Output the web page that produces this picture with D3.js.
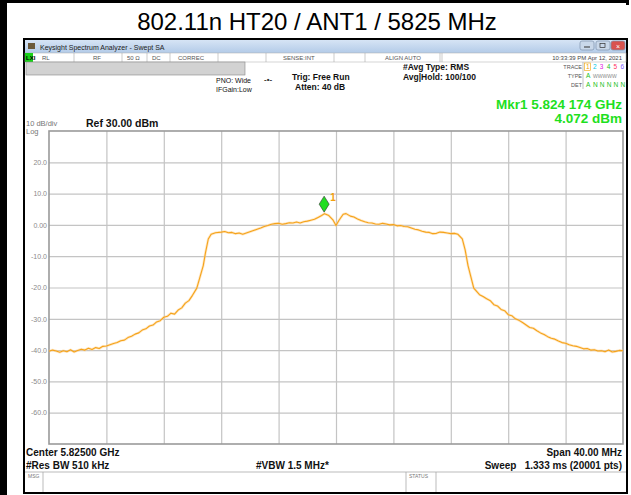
<!DOCTYPE html>
<html>
<head>
<meta charset="utf-8">
<script src="https://cdn.jsdelivr.net/npm/d3@7"></script>
<style>
  html, body { margin: 0; padding: 0; background: #fff; }
  svg { display: block; font-family: "Liberation Sans", Arial, sans-serif; }
</style>
</head>
<body>
<svg id="svg" width="631" height="495"></svg>
<script>
// spectrum trace (MHz, dBm)
const freqs = [
  5805.00, 5805.25, 5805.50, 5805.75, 5806.00, 5806.25, 5806.50, 5806.75, 5807.00, 5807.25,
  5807.50, 5807.75, 5808.00, 5808.25, 5808.50, 5808.75, 5809.00, 5809.25, 5809.50, 5809.75,
  5810.00, 5810.25, 5810.50, 5810.75, 5811.00, 5811.25, 5811.50, 5811.75, 5812.00, 5812.25,
  5812.50, 5812.75, 5813.00, 5813.25, 5813.50, 5813.75, 5814.00, 5814.25, 5814.50, 5814.75,
  5815.00, 5815.30, 5815.50, 5815.75, 5815.90, 5816.10, 5816.30, 5816.60,
  5817.00, 5817.25, 5817.50, 5817.75, 5818.00, 5818.25, 5818.50, 5818.75, 5819.00, 5819.25,
  5819.50, 5819.75, 5820.00, 5820.25, 5820.50, 5820.75, 5821.00, 5821.25, 5821.50, 5821.75,
  5822.00, 5822.25, 5822.50, 5822.75, 5823.00, 5823.25, 5823.50, 5823.75,
  5824.00, 5824.20, 5824.50, 5824.80, 5825.00, 5825.20, 5825.50, 5825.70,
  5826.00, 5826.25, 5826.50, 5826.75, 5827.00, 5827.25, 5827.50, 5827.75, 5828.00, 5828.25,
  5828.50, 5828.75, 5829.00, 5829.25, 5829.50, 5829.75, 5830.00, 5830.25, 5830.50, 5830.75,
  5831.00, 5831.25, 5831.50, 5831.75, 5832.00, 5832.25, 5832.50, 5832.75, 5833.00, 5833.25,
  5833.50, 5833.80, 5834.00, 5834.20, 5834.40, 5834.60, 5835.00,
  5835.25, 5835.50, 5835.75, 5836.00, 5836.25, 5836.50, 5836.75, 5837.00, 5837.25, 5837.50,
  5837.75, 5838.00, 5838.25, 5838.50, 5838.75, 5839.00, 5839.25, 5839.50, 5839.75, 5840.00,
  5840.25, 5840.50, 5840.75, 5841.00, 5841.25, 5841.50, 5841.75, 5842.00, 5842.25, 5842.50,
  5842.75, 5843.00, 5843.25, 5843.50, 5843.75, 5844.00, 5844.25, 5844.50, 5844.75, 5845.00
];
const levels = [
  -40.4, -40.0, -40.3, -40.7, -40.2, -40.5, -39.9, -40.6, -40.1, -39.7,
  -40.0, -39.4, -39.8, -39.2, -39.5, -38.8, -38.7, -38.3, -37.9, -37.6,
  -37.0, -36.8, -36.0, -35.6, -34.9, -34.5, -33.6, -33.2, -32.3, -32.0,
  -31.0, -30.6, -29.5, -29.2, -28.2, -28.5, -27.2, -26.5, -25.0, -24.2,
  -22.5, -20.2, -17.0, -13.0, -9.0, -4.5, -3.0, -2.5,
  -2.3, -2.1, -2.5, -2.4, -2.8, -2.6, -3.0, -2.6, -2.2, -1.8,
  -1.4, -1.0, -0.5, -0.2, 0.2, 0.4, 0.5, 0.2, 0.4, 0.7,
  0.6, 0.9, 0.6, 1.0, 1.2, 1.5, 1.8, 2.4,
  3.0, 3.6, 3.0, 1.5, -0.2, 1.4, 3.4, 3.6,
  2.8, 2.5, 1.9, 1.4, 1.0, 0.7, 0.6, 0.3, 0.2, 0.5,
  0.3, 0.0, 0.1, -0.3, -0.2, -0.5, -0.6, -1.0, -1.4, -1.6,
  -2.0, -2.3, -2.4, -2.8, -2.7, -2.3, -2.4, -2.6, -2.8, -2.7,
  -3.0, -4.5, -8.0, -13.0, -16.6, -20.2, -22.3,
  -22.9, -23.6, -24.2, -25.5, -25.9, -27.0, -27.4, -28.7, -29.0, -30.0,
  -30.5, -31.2, -32.0, -32.8, -33.0, -33.8, -34.5, -35.0, -35.7, -36.2,
  -36.5, -37.1, -37.6, -37.8, -38.3, -38.6, -38.8, -39.2, -39.6, -39.5,
  -40.0, -39.9, -40.3, -40.2, -40.5, -40.0, -40.6, -40.4, -40.1, -40.2
];

const yTicks = [20, 10, 0, -10, -20, -30, -40, -50, -60];
const yTickLabels = ["20.0", "10.0", "0.00", "-10.0", "-20.0", "-30.0", "-40.0", "-50.0", "-60.0"];
const xTicks = [5809, 5813, 5817, 5821, 5825, 5829, 5833, 5837, 5841];

const marker = { freq: 5824.174, level: 4.072, label: "1" };

const svg = d3.select("#svg");
const W = 631, H = 495;

const x = d3.scaleLinear().domain([5805, 5845]).range([49, 623]);
const y = d3.scaleLinear().domain([-70, 30]).range([444, 131]);

// page frame
svg.append("rect").attr("x", 0).attr("y", 0).attr("width", W).attr("height", H).attr("fill", "#fff");
svg.append("rect").attr("x", 0).attr("y", 0).attr("width", 7).attr("height", H).attr("fill", "#000");
svg.append("rect").attr("x", 0).attr("y", 0).attr("width", 629).attr("height", 3).attr("fill", "#000");
svg.append("rect").attr("x", 626).attr("y", 0).attr("width", 3).attr("height", 5).attr("fill", "#000");

svg.append("text")
  .attr("x", 317).attr("y", 30)
  .attr("text-anchor", "middle")
  .style("font-size", "24px")
  .attr("fill", "#000")
  .text("802.11n HT20 / ANT1 / 5825 MHz");

// instrument window
const win = svg.append("g");
win.append("rect").attr("x", 24).attr("y", 39).attr("width", 603).attr("height", 454)
  .attr("fill", "#fff").attr("stroke", "#000").attr("stroke-width", 2);

const defs = svg.append("defs");
const grad = defs.append("linearGradient").attr("id", "tb").attr("x1", 0).attr("y1", 0).attr("x2", 0).attr("y2", 1);
grad.append("stop").attr("offset", "0%").attr("stop-color", "#d6e4f5");
grad.append("stop").attr("offset", "100%").attr("stop-color", "#b3cbe8");
win.append("rect").attr("x", 25).attr("y", 40).attr("width", 601).attr("height", 13).attr("fill", "url(#tb)");
win.append("rect").attr("x", 28).attr("y", 43).attr("width", 7).attr("height", 6).attr("fill", "#6b5a3a");
win.append("text").attr("x", 40).attr("y", 50).style("font-size", "7px").attr("fill", "#222")
  .text("Keysight Spectrum Analyzer - Swept SA");

// window buttons
[[580, "#c9d8ea"], [596, "#c9d8ea"], [611, "#d9534f"]].forEach(([bx, c]) => {
  win.append("rect").attr("x", bx).attr("y", 41).attr("width", 14).attr("height", 9)
    .attr("rx", 2).attr("fill", c).attr("stroke", "#7f93ad").attr("stroke-width", 0.7);
});
win.append("line").attr("x1", 584).attr("x2", 590).attr("y1", 47).attr("y2", 47).attr("stroke", "#333");
win.append("rect").attr("x", 600).attr("y", 43.5).attr("width", 5).attr("height", 4).attr("fill", "none").attr("stroke", "#333").attr("stroke-width", 0.7);
win.append("text").attr("x", 618).attr("y", 48.5).attr("text-anchor", "middle").style("font-size", "7px").attr("fill", "#fff").text("×");

// status row
win.append("rect").attr("x", 25).attr("y", 53).attr("width", 601).attr("height", 9).attr("fill", "#fff")
  .attr("stroke", "#aaa").attr("stroke-width", 0.5);
win.append("rect").attr("x", 25).attr("y", 53).attr("width", 8).attr("height", 9).attr("fill", "#19d119");
win.append("text").attr("x", 26).attr("y", 60).style("font-size", "6px").attr("font-weight", "bold").text("LXI");
const statusCells = [
  { x: 42, t: "RL" }, { x: 93, t: "RF" }, { x: 127, t: "50 Ω" }, { x: 152, t: "DC" }, { x: 178, t: "CORREC" },
  { x: 283, t: "SENSE:INT" }, { x: 385, t: "ALIGN AUTO" }
];
statusCells.forEach((d) => {
  win.append("text").attr("x", d.x).attr("y", 60).style("font-size", "6px").attr("fill", "#555").text(d.t);
});
[74, 122, 147, 170, 218, 266, 334, 365, 440, 442].forEach((lx) => {
  win.append("line").attr("x1", lx).attr("x2", lx).attr("y1", 53).attr("y2", 62).attr("stroke", "#aaa").attr("stroke-width", 0.6);
});
win.append("text").attr("x", 622).attr("y", 60).attr("text-anchor", "end").style("font-size", "6px").attr("fill", "#444")
  .text("10:33:39 PM Apr 12, 2021");

// grey message band
win.append("rect").attr("x", 26).attr("y", 62).attr("width", 219).attr("height", 13).attr("fill", "#d2d2d2")
  .attr("stroke", "#888").attr("stroke-width", 0.6);

// settings text
const small = (t, tx, ty, opts = {}) => win.append("text").attr("x", tx).attr("y", ty)
  .style("font-size", (opts.size || 7) + "px").attr("font-weight", opts.bold ? "bold" : "normal")
  .attr("fill", opts.fill || "#111").attr("text-anchor", opts.anchor || "start").text(t);

small("PNO: Wide", 216, 83);
small("IFGain:Low", 216, 92);
small("-•-", 264, 82, { size: 8, bold: true, fill: "#333" });
small("Trig: Free Run", 292, 80, { size: 8.5, bold: true });
small("Atten: 40 dB", 295, 90, { size: 8.5, bold: true });
small("#Avg Type: RMS", 403, 70, { size: 8.5, bold: true });
small("Avg|Hold: 100/100", 403, 80, { size: 8.5, bold: true });

// trace table
small("TRACE", 582, 69, { size: 5.5, anchor: "end", fill: "#555" });
small("TYPE", 582, 78, { size: 5.5, anchor: "end", fill: "#555" });
small("DET", 582, 87, { size: 5.5, anchor: "end", fill: "#555" });
const traceColors = ["#f0a000", "#00c8e6", "#e020e0", "#20c020", "#ff3060", "#8060ff"];
traceColors.forEach((c, i) => {
  small(String(i + 1), 586 + i * 6.9, 69, { size: 6.5, fill: c });
  small(i === 0 ? "A" : "N", 586 + i * 6.9, 87, { size: 6.5, fill: "#20c020" });
});
win.append("rect").attr("x", 584.5).attr("y", 63).attr("width", 6).attr("height", 7.5).attr("fill", "none")
  .attr("stroke", "#f0a000").attr("stroke-width", 0.6);
small("A", 586, 78, { size: 6.5, fill: "#20c020" });
small("WWWWW", 593, 78, { size: 5, fill: "#888" });
win.append("line").attr("x1", 583).attr("x2", 583).attr("y1", 62).attr("y2", 89).attr("stroke", "#999").attr("stroke-width", 0.6);

// marker readout
small("Mkr1 5.824 174 GHz", 622, 109, { size: 13.5, bold: true, anchor: "end", fill: "#1ee01e" });
small("4.072 dBm", 622, 123, { size: 13.5, bold: true, anchor: "end", fill: "#1ee01e" });

small("10 dB/div", 26, 126, { size: 7.5, fill: "#777" });
small("Log", 26, 134, { size: 7.5, fill: "#777" });
small("Ref 30.00 dBm", 86, 127, { size: 10.5, bold: true });

// plot area
const plot = svg.append("g");
plot.append("g")
  .attr("transform", "translate(49,0)")
  .call(d3.axisLeft(y).tickValues(yTicks).tickSize(-(623 - 49))
    .tickFormat((d, i) => yTickLabels[i]))
  .call((g) => g.select(".domain").remove())
  .call((g) => g.selectAll(".tick line").attr("stroke", "#c4c4c4").attr("stroke-width", 1.2))
  .call((g) => g.selectAll(".tick text").attr("x", -2).attr("fill", "#8a8a8a")
    .style("font-size", "7px").style("font-family", "Liberation Sans, Arial, sans-serif"));

plot.append("g")
  .attr("transform", "translate(0,131)")
  .call(d3.axisBottom(x).tickValues(xTicks).tickSize(444 - 131).tickFormat(""))
  .call((g) => g.select(".domain").remove())
  .call((g) => g.selectAll(".tick line").attr("stroke", "#c4c4c4").attr("stroke-width", 1.2));

plot.append("rect").attr("x", 49).attr("y", 131).attr("width", 623 - 49).attr("height", 444 - 131)
  .attr("fill", "none").attr("stroke", "#9a9a9a").attr("stroke-width", 1.6);

// trace
const pts = freqs.map((f, i) => [f, levels[i]]);
const line = d3.line().x((d) => x(d[0])).y((d) => y(d[1]));
plot.append("path").datum(pts).attr("d", line).attr("fill", "none")
  .attr("stroke", "#ffd08a").attr("stroke-width", 2.6).attr("stroke-opacity", 0.5).attr("stroke-linejoin", "round");
plot.append("path").datum(pts).attr("d", line).attr("fill", "none")
  .attr("stroke", "#f5a31a").attr("stroke-width", 1.1).attr("stroke-linejoin", "round");

// marker
const mx = x(marker.freq), my = y(marker.level);
plot.append("path")
  .attr("d", `M${mx},${my} L${mx + 5},${my - 8} L${mx},${my - 16} L${mx - 5},${my - 8} Z`)
  .attr("fill", "#22dd22").attr("stroke", "#333").attr("stroke-width", 0.6);
plot.append("text").attr("x", mx + 6).attr("y", my - 11).style("font-size", "10px").attr("font-weight", "bold")
  .attr("fill", "#f3a010").text(marker.label);

// bottom annotations
small("Center 5.82500 GHz", 26, 456, { size: 10, bold: true });
small("#Res BW 510 kHz", 26, 469, { size: 10, bold: true });
small("#VBW 1.5 MHz*", 256, 469, { size: 10, bold: true });
small("Span 40.00 MHz", 622, 456, { size: 10, bold: true, anchor: "end" });
small("Sweep\u00a0\u00a0 1.333 ms (20001 pts)", 622, 469, { size: 10, bold: true, anchor: "end" });

// msg row
win.append("line").attr("x1", 25).attr("x2", 626).attr("y1", 472).attr("y2", 472).attr("stroke", "#aaa").attr("stroke-width", 0.8);
[43, 406, 436].forEach((lx) => {
  win.append("line").attr("x1", lx).attr("x2", lx).attr("y1", 472).attr("y2", 492).attr("stroke", "#aaa").attr("stroke-width", 0.8);
});
small("MSG", 28, 478, { size: 5, fill: "#777" });
small("STATUS", 409, 478, { size: 5, fill: "#777" });
</script>
</body>
</html>
